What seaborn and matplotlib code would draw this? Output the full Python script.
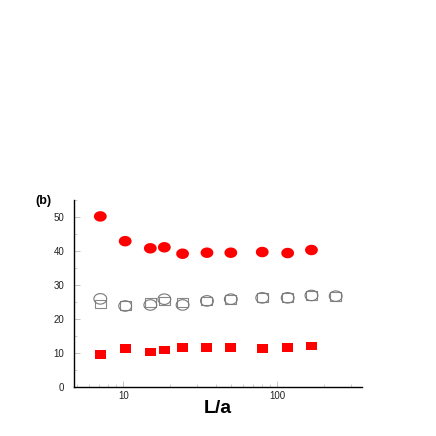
import matplotlib
matplotlib.use("Agg")
import matplotlib.pyplot as plt
import seaborn as sns
import numpy as np
import pandas as pd
from matplotlib.path import Path
from matplotlib.ticker import MultipleLocator, FixedLocator, NullFormatter, FixedFormatter

# values
L_filled = [7.1, 10.3, 15.0, 18.5, 24.3, 35, 50, 80, 117, 167]
circle_filled = [50.2, 42.9, 40.8, 41.1, 39.2, 39.5, 39.5, 39.7, 39.4, 40.3]
square_filled = [9.6, 11.3, 10.2, 10.8, 11.5, 11.5, 11.5, 11.2, 11.6, 12.0]

L_open = [7.1, 10.3, 15.0, 18.5, 24.3, 35, 50, 80, 117, 167, 240]
circle_open = [25.9, 23.8, 24.1, 25.8, 24.1, 25.3, 25.8, 26.2, 26.2, 26.9, 26.7]
square_open = [24.4, 23.9, 24.8, 25.3, 24.9, 25.3, 25.8, 26.2, 26.2, 26.9, 26.7]

x_ticks = [10, 100]
x_tick_labels = ['10', '100']
y_ticks = [0, 10, 20, 30, 40, 50]

sns.set_style("white")
plt.rcParams['font.family'] = ['Liberation Sans', 'DejaVu Sans']

# slightly flattened ellipse / box markers
t = np.linspace(0, 2 * np.pi, 40)
ellipse = Path(np.column_stack([np.cos(t), 0.82 * np.sin(t)]), closed=True)
box = Path([(-1, -0.8), (1, -0.8), (1, 0.8), (-1, 0.8), (-1, -0.8)], closed=True)

fig = plt.figure(figsize=(4.36, 4.36), dpi=100)
ax = fig.add_axes([0.170, 0.113, 0.660, 0.428])

df_f = pd.DataFrame({'L': L_filled, 'circ': circle_filled, 'sq': square_filled})
df_o = pd.DataFrame({'L': L_open, 'circ': circle_open, 'sq': square_open})

sns.scatterplot(data=df_o, x='L', y='sq', marker=box, s=62, facecolor='none',
                edgecolor='#888888', linewidth=0.8, ax=ax)
sns.scatterplot(data=df_o, x='L', y='circ', marker=ellipse, s=85, facecolor='none',
                edgecolor='#777777', linewidth=0.8, ax=ax)
sns.scatterplot(data=df_f, x='L', y='circ', marker=ellipse, s=85, color='#ff0000',
                edgecolor='none', ax=ax)
sns.scatterplot(data=df_f, x='L', y='sq', marker=box, s=62, color='#ff0000',
                edgecolor='none', ax=ax)

ax.set_xscale('log')
ax.set_xlim(4.8, 355)
ax.set_ylim(0, 55)

ax.yaxis.set_major_locator(FixedLocator(y_ticks))
ax.yaxis.set_minor_locator(MultipleLocator(5))
ax.xaxis.set_major_locator(FixedLocator(x_ticks))
ax.xaxis.set_major_formatter(FixedFormatter(x_tick_labels))
ax.xaxis.set_minor_formatter(NullFormatter())
ax.tick_params(axis='both', which='both', direction='in', color='#bbbbbb',
               labelsize=7, labelcolor='#222222')
ax.tick_params(axis='y', which='both', pad=7)
ax.tick_params(axis='x', which='both', pad=3)
ax.tick_params(axis='both', which='major', length=4, width=0.6)
ax.tick_params(axis='both', which='minor', length=2.5, width=0.5)
ax.tick_params(axis='x', which='both', bottom=True)
ax.tick_params(axis='y', which='both', left=True)

for side in ['top', 'right']:
    ax.spines[side].set_visible(False)
for side in ['left', 'bottom']:
    ax.spines[side].set_color('black')
    ax.spines[side].set_linewidth(1.0)

ax.set_xlabel('L/a', fontsize=14, fontweight='bold', color='black', labelpad=-1)
ax.set_ylabel('')
fig.text(0.080, 0.532, '(b)', fontsize=9, fontweight='bold', color='black')

fig.savefig('out.png', dpi=100)
